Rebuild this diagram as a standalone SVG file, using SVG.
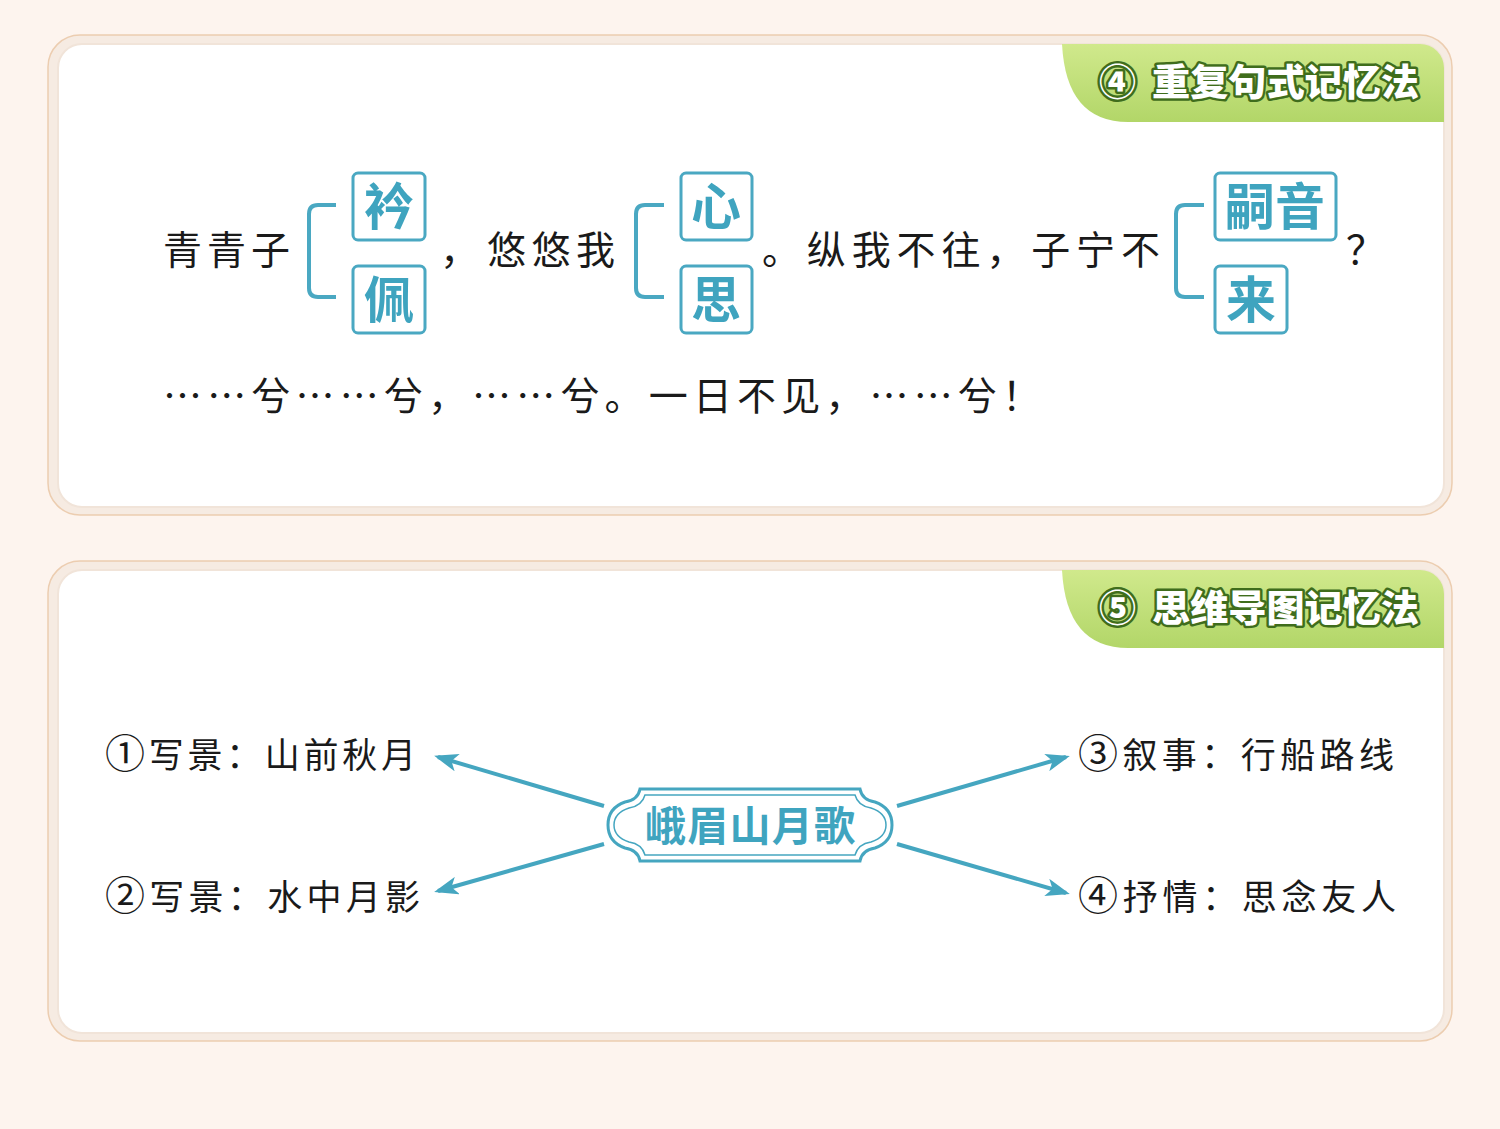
<svg xmlns="http://www.w3.org/2000/svg" width="1500" height="1129" viewBox="0 0 1500 1129">
<defs>
<style>
.panelOuter{fill:#f6ebe2;stroke:#eccdb0;stroke-width:1.5}
.panelInner{fill:#ffffff;stroke:#f1e4d9;stroke-width:2}
.tab{fill:url(#tabGrad)}
.tabText{font-family:"Noto Sans CJK SC","Noto Sans",sans-serif;font-weight:900;font-size:37px;fill:#ffffff;stroke:#3f6d1c;stroke-width:5px;paint-order:stroke;stroke-linejoin:round}
.txt{font-family:"Noto Sans CJK SC",sans-serif;font-size:39px;fill:#1a1a1a}
.lbl{font-family:"Noto Sans CJK SC",sans-serif;font-size:35px;fill:#1a1a1a}
.num{font-size:40px}
.box{fill:none;stroke:#4aa8c2;stroke-width:3}
.boxTxt{font-family:"Noto Sans CJK SC",sans-serif;font-weight:700;font-size:50px;fill:#3fa4bf}
.brk{fill:none;stroke:#4aa8c2;stroke-width:4;stroke-linecap:butt}
.conn{stroke:#45a6c0;stroke-width:4;fill:none}
.ctr{fill:#ffffff;stroke:#45a6c0;stroke-width:3}
.ctrIn{fill:none;stroke:#45a6c0;stroke-width:1.5}
.ctrTxt{font-family:"Noto Sans CJK SC",sans-serif;font-weight:700;font-size:41px;fill:#3fa4bf}
</style>
<linearGradient id="tabGrad" x1="0" y1="0" x2="0" y2="1">
<stop offset="0" stop-color="#d0e98c"/>
<stop offset="1" stop-color="#b2d668"/>
</linearGradient>
<marker id="ah" viewBox="0 0 24 18" refX="20" refY="9" markerWidth="24" markerHeight="18" markerUnits="userSpaceOnUse" orient="auto">
<path d="M0,0 L24,9 L0,18 L6,9 Z" fill="#45a6c0"/>
</marker>
</defs>
<rect width="1500" height="1129" fill="#fdf4ee"/>

<g id="panel1">
<rect class="panelOuter" x="48" y="35" width="1404" height="480" rx="32"/>
<rect class="panelInner" x="58" y="44" width="1386" height="463" rx="24"/>
</g>
<g id="tab1">
<path class="tab" d="M1062,44 H1420 A24,24 0 0 1 1444,68 V122 H1128 Q1066,122 1062,44 Z"/>
<text class="tabText" x="1099" y="96">④</text>
<text class="tabText" x="1152" y="96" textLength="267" lengthAdjust="spacingAndGlyphs">重复句式记忆法</text>
</g>

<g id="line1">
<text class="txt" x="163" y="264" textLength="127" lengthAdjust="spacing">青青子</text>
<text class="txt" x="440" y="264">，</text>
<text class="txt" x="487" y="264" textLength="128" lengthAdjust="spacing">悠悠我</text>
<text class="txt" x="762" y="264" textLength="398" lengthAdjust="spacing">。纵我不往，子宁不</text>
<text class="txt" x="1346" y="264">？</text>
</g>

<g id="bracket1">
<path class="brk" d="M336,205 H318 Q309,205 309,214 V288 Q309,297 318,297 H336"/>
<rect class="box" x="353" y="173" width="72" height="67" rx="5"/>
<text class="boxTxt" x="389" y="225" text-anchor="middle">衿</text>
<rect class="box" x="353" y="266" width="72" height="67" rx="5"/>
<text class="boxTxt" x="389" y="318" text-anchor="middle">佩</text>
</g>
<g id="bracket2">
<path class="brk" d="M664,205 H645 Q636,205 636,214 V288 Q636,297 645,297 H664"/>
<rect class="box" x="681" y="173" width="71" height="67" rx="5"/>
<text class="boxTxt" x="716" y="225" text-anchor="middle">心</text>
<rect class="box" x="681" y="266" width="71" height="67" rx="5"/>
<text class="boxTxt" x="716" y="318" text-anchor="middle">思</text>
</g>
<g id="bracket3">
<path class="brk" d="M1204,205 H1185 Q1176,205 1176,214 V288 Q1176,297 1185,297 H1204"/>
<rect class="box" x="1215" y="173" width="121" height="67" rx="5"/>
<text class="boxTxt" x="1275" y="225" text-anchor="middle">嗣音</text>
<rect class="box" x="1215" y="266" width="72" height="67" rx="5"/>
<text class="boxTxt" x="1251" y="318" text-anchor="middle">来</text>
</g>

<g id="line2">
<text class="txt" x="163" y="410" textLength="878" lengthAdjust="spacing">……兮……兮，……兮。一日不见，……兮！</text>
</g>

<g id="panel2">
<rect class="panelOuter" x="48" y="561" width="1404" height="480" rx="32"/>
<rect class="panelInner" x="58" y="570" width="1386" height="463" rx="24"/>
</g>
<g id="tab2">
<path class="tab" d="M1062,570 H1420 A24,24 0 0 1 1444,594 V648 H1128 Q1066,648 1062,570 Z"/>
<text class="tabText" x="1099" y="622">⑤</text>
<text class="tabText" x="1152" y="622" textLength="267" lengthAdjust="spacingAndGlyphs">思维导图记忆法</text>
</g>

<g id="connectors">
<line class="conn" x1="604" y1="806" x2="438" y2="757" marker-end="url(#ah)"/>
<line class="conn" x1="604" y1="844" x2="438" y2="891" marker-end="url(#ah)"/>
<line class="conn" x1="897" y1="806" x2="1066" y2="757" marker-end="url(#ah)"/>
<line class="conn" x1="897" y1="844" x2="1066" y2="893" marker-end="url(#ah)"/>
</g>

<g id="center">
<path class="ctr" d="M640,789 H860 Q862,800 875,802 Q892,808 892,825 Q892,842 875,848 Q862,850 860,861 H640 Q638,850 625,848 Q608,842 608,825 Q608,808 625,802 Q638,800 640,789 Z"/>
<path class="ctrIn" d="M645,795 H855 Q858,806 871,808 Q886,813 886,825 Q886,837 871,842 Q858,844 855,855 H645 Q642,844 629,842 Q614,837 614,825 Q614,813 629,808 Q642,806 645,795 Z"/>
<text class="ctrTxt" x="750" y="841" text-anchor="middle" textLength="210" lengthAdjust="spacing">峨眉山月歌</text>
</g>

<g id="n1"><text class="lbl" x="105" y="768" textLength="311" lengthAdjust="spacing"><tspan class="num">①</tspan>写景：山前秋月</text></g>
<g id="n2"><text class="lbl" x="105" y="910" textLength="315" lengthAdjust="spacing"><tspan class="num">②</tspan>写景：水中月影</text></g>
<g id="n3"><text class="lbl" x="1078" y="768" textLength="316" lengthAdjust="spacing"><tspan class="num">③</tspan>叙事：行船路线</text></g>
<g id="n4"><text class="lbl" x="1078" y="910" textLength="318" lengthAdjust="spacing"><tspan class="num">④</tspan>抒情：思念友人</text></g>
</svg>
